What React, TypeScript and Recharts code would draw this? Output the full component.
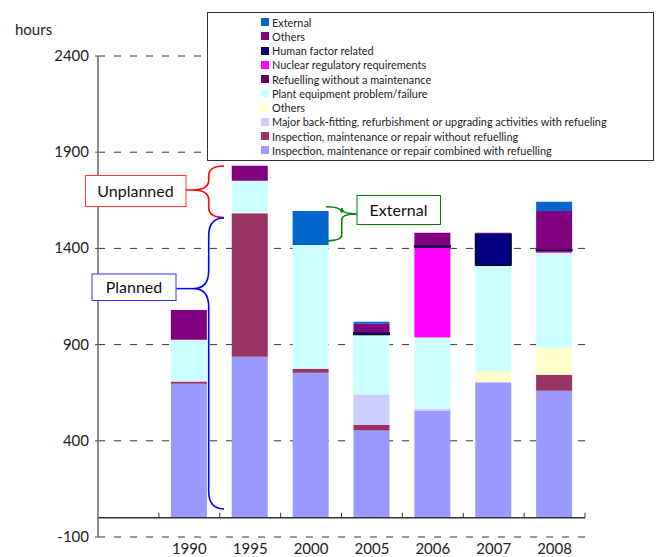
import React from 'react'
import { BarChart, Bar, XAxis, YAxis, CartesianGrid, ReferenceLine, Legend } from 'recharts'

// first slot is an empty category, the original axis starts one band early
const years = ['', '1990', '1995', '2000', '2005', '2006', '2007', '2008']

// stacked bottom -> top, hours
const inspectionCombined = [null, 697, 837, 754, 453, 558, 704, 660]
const inspectionNoRefuel = [null, 11, 746, 21, 31, 0, 0, 83]
const backFitting = [null, 0, 0, 0, 156, 7, 0, 0]
const othersPlanned = [null, 0, 4, 0, 0, 0, 57, 142]
const plantEquipment = [null, 217, 164, 643, 311, 372, 550, 493]
const refuelNoMaint = [null, 0, 0, 0, 0, 0, 0, 0]
const nuclearReg = [null, 0, 0, 0, 0, 469, 0, 9]
const humanFactor = [null, 0, 0, 0, 12, 11, 165, 9]
const othersUnplanned = [null, 155, 78, 0, 45, 64, 5, 199]
const external = [null, 0, 0, 177, 11, 0, 0, 47]

const yTicks = [-100, 400, 900, 1400, 1900, 2400]

const series = [
    { key: 'inspectionCombined', name: 'Inspection, maintenance or repair combined with refuelling', color: '#9999FF', values: inspectionCombined },
    { key: 'inspectionNoRefuel', name: 'Inspection, maintenance or repair without refuelling', color: '#993366', values: inspectionNoRefuel },
    { key: 'backFitting', name: 'Major back-fitting, refurbishment or upgrading activities with refueling', color: '#CCCCFF', values: backFitting },
    { key: 'othersPlanned', name: 'Others', color: '#FFFFCC', values: othersPlanned },
    { key: 'plantEquipment', name: 'Plant equipment problem/failure', color: '#CCFFFF', values: plantEquipment },
    { key: 'refuelNoMaint', name: 'Refuelling without a maintenance', color: '#660066', values: refuelNoMaint },
    { key: 'nuclearReg', name: 'Nuclear regulatory requirements', color: '#FF00FF', values: nuclearReg },
    { key: 'humanFactor', name: 'Human factor related', color: '#000080', values: humanFactor, stroke: '#000' },
    { key: 'othersUnplanned', name: 'Others', color: '#800080', values: othersUnplanned },
    { key: 'external', name: 'External', color: '#0066CC', values: external },
]

const data = years.map((year, i) => {
    const row: any = { year }
    series.forEach(s => { row[s.key] = s.values[i] })
    return row
})

const W = 658
const H = 557
const MARGIN = { top: 56, right: 73, left: 0, bottom: 0 }
const Y_AXIS_W = 98
const X_AXIS_H = 20
const PLOT_W = W - MARGIN.right - Y_AXIS_W
const PLOT_H = H - MARGIN.top - X_AXIS_H
const Y_MIN = -100
const Y_MAX = 2400
const ZERO_Y = MARGIN.top + PLOT_H * (Y_MAX / (Y_MAX - Y_MIN))
const BAND = PLOT_W / years.length

const FONT = 'Lato, "Noto Sans", sans-serif'

function YTick({ x, y, payload }: any) {
    return (
        <text x={x - 4} y={y} dy={5} textAnchor="end" fontSize={15} fontFamily={FONT} fill="#222">
            {payload.value}
        </text>
    )
}

function XTick({ x, payload }: any) {
    const edge = x + BAND / 2
    return (
        <g>
            <line x1={edge} x2={edge} y1={ZERO_Y - 5} y2={ZERO_Y} stroke="#333" strokeWidth={1} />
            <text x={x} y={H - 3} textAnchor="middle" fontSize={15} fontFamily={FONT} fill="#222">
                {payload.value}
            </text>
        </g>
    )
}

// legend lists the series top of stack first, like the original
function LegendBox() {
    const items = [...series].reverse()
    return (
        <div style={{
            width: 445, height: 145, border: '1px solid #333', background: '#fff',
            boxSizing: 'content-box', paddingTop: 2, fontFamily: FONT,
        }}>
            {items.map(item => (
                <div key={item.key} style={{ display: 'flex', alignItems: 'center', height: 14.25, paddingLeft: 53 }}>
                    <span style={{
                        width: 8, height: 8, flexShrink: 0, background: item.color,
                        border: item.stroke ? '1px solid #000' : 'none', boxSizing: 'border-box',
                    }} />
                    <span style={{ fontSize: 10.9, color: '#222', marginLeft: 3, whiteSpace: 'nowrap' }}>{item.name}</span>
                </div>
            ))}
        </div>
    )
}

// "{" brace: ends at x=e, spine at s, tip at p
function brace(e: number, s: number, p: number, t: number, m: number, b: number, r: number) {
    return `M ${e} ${t} Q ${s} ${t} ${s} ${t + r} L ${s} ${m - r} Q ${s} ${m} ${p} ${m} Q ${s} ${m} ${s} ${m + r} L ${s} ${b - r} Q ${s} ${b} ${e} ${b}`
}

function Annotations() {
    return (
        <svg width={W} height={H} style={{ position: 'absolute', left: 0, top: 0, pointerEvents: 'none' }}>
            <text x={15} y={35} fontSize={15} fontFamily={FONT} fill="#222">hours</text>

            {/* Unplanned */}
            <rect x={85.5} y={175.5} width={100.5} height={31} fill="#fff" stroke="#FF3333" strokeWidth={1} />
            <text x={135.5} y={196.5} textAnchor="middle" fontSize={16} fontFamily={FONT} fill="#111">Unplanned</text>
            <line x1={186} x2={193} y1={190} y2={190} stroke="#FF0000" strokeWidth={1.5} />
            <path d={brace(224, 208.7, 192.5, 166, 190, 217.5, 10)} fill="none" stroke="#FF0000" strokeWidth={1.6} />

            {/* Planned */}
            <rect x={92} y={274} width={84} height={26.5} fill="#fff" stroke="#3333FF" strokeWidth={1} />
            <text x={134} y={293} textAnchor="middle" fontSize={16} fontFamily={FONT} fill="#111">Planned</text>
            <line x1={176.5} x2={194} y1={288.6} y2={288.6} stroke="#0000FF" strokeWidth={1.5} />
            <path d={brace(224, 208.7, 193.5, 218, 288.6, 509, 18)} fill="none" stroke="#0000FF" strokeWidth={1.6} />

            {/* External */}
            <rect x={357} y={195.5} width={83.5} height={29} fill="#fff" stroke="#008000" strokeWidth={1} />
            <text x={398.5} y={215.5} textAnchor="middle" fontSize={16} fontFamily={FONT} fill="#111">External</text>
            <path d={brace(326, 341.7, 357, 206.7, 214, 240.7, 6)} fill="none" stroke="#008000" strokeWidth={1.6} />
        </svg>
    )
}

export default function App() {
    return (
        <div style={{ position: 'absolute', left: 0, top: 0, width: W, height: H, background: '#fff' }}>
            <BarChart width={W} height={H} data={data} margin={MARGIN} barSize={36}>
                <CartesianGrid vertical={false} stroke="#333" strokeDasharray="7 9" />
                <YAxis
                    width={Y_AXIS_W}
                    domain={[Y_MIN, Y_MAX]}
                    ticks={yTicks}
                    interval={0}
                    tick={<YTick />}
                    tickSize={3}
                    tickLine={{ stroke: '#555' }}
                    axisLine={{ stroke: '#666', strokeWidth: 1.5 }}
                />
                <XAxis
                    dataKey="year"
                    height={X_AXIS_H}
                    interval={0}
                    tick={<XTick />}
                    tickLine={false}
                    axisLine={false}
                />
                <ReferenceLine y={0} stroke="#333" strokeWidth={1.5} />
                <Legend
                    layout="vertical"
                    align="center"
                    verticalAlign="middle"
                    content={<LegendBox />}
                    wrapperStyle={{ position: 'absolute', left: 207, top: 12, width: 447, height: 148 }}
                />
                {series.map(s => (
                    <Bar
                        key={s.key}
                        dataKey={s.key}
                        name={s.name}
                        stackId="hours"
                        fill={s.color}
                        stroke={s.stroke || 'none'}
                        strokeWidth={s.stroke ? 1 : 0}
                        isAnimationActive={false}
                        legendType="square"
                    />
                ))}
            </BarChart>
            <Annotations />
        </div>
    )
}
